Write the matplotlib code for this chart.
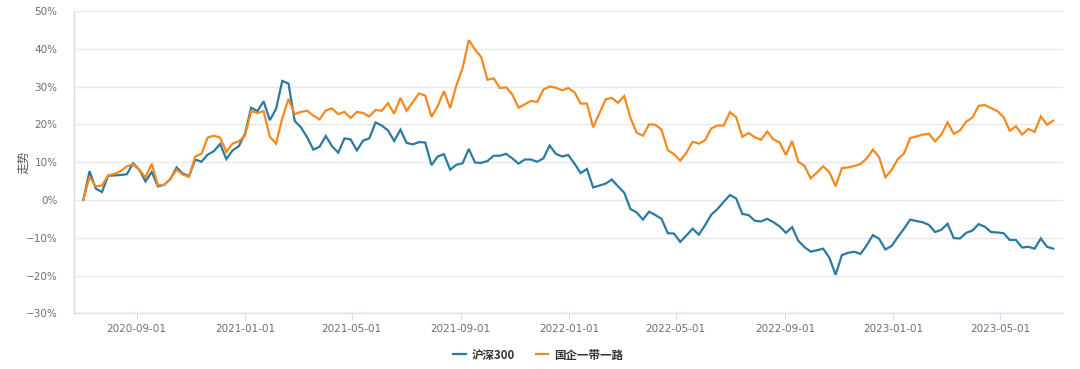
import matplotlib
matplotlib.use("Agg")
import matplotlib.pyplot as plt
import matplotlib.dates as mdates
import numpy as np
import pandas as pd

plt.rcParams['font.family'] = ['Noto Sans CJK SC', 'DejaVu Sans']

start_date = "2020-07-03"
n_points = 157
series_names = ["沪深300", "国企一带一路"]

hs300 = [
    0.0, 7.6, 3.0, 2.1, 6.4, 6.5, 6.6, 6.8, 9.7, 8.0,
    4.9, 7.4, 3.6, 4.0, 5.5, 8.6, 7.0, 6.3, 10.7, 10.1,
    12.0, 12.9, 14.8, 10.8, 13.1, 14.2, 17.5, 24.4, 23.5, 26.1,
    21.1, 24.1, 31.5, 30.8, 20.9, 19.2, 16.6, 13.3, 14.1, 16.9,
    14.2, 12.5, 16.3, 16.0, 13.1, 15.7, 16.3, 20.5, 19.7, 18.4,
    15.6, 18.6, 15.1, 14.7, 15.3, 15.2, 9.2, 11.5, 12.1, 8.0,
    9.3, 9.7, 13.5, 9.9, 9.8, 10.3, 11.7, 11.7, 12.2, 11.0,
    9.6, 10.7, 10.7, 10.1, 11.0, 14.4, 12.2, 11.5, 11.9, 9.6,
    7.1, 8.2, 3.3, 3.8, 4.3, 5.4, 3.6, 1.9, -2.4, -3.3,
    -5.2, -3.1, -4.0, -5.0, -8.8, -8.9, -11.1, -9.4, -7.6, -9.2,
    -6.7, -3.9, -2.4, -0.5, 1.3, 0.4, -3.7, -4.0, -5.5, -5.7,
    -5.0, -5.9, -7.0, -8.7, -7.2, -10.8, -12.5, -13.7, -13.3, -12.9,
    -15.3, -19.8, -14.6, -14.0, -13.7, -14.3, -12.0, -9.3, -10.3, -13.1,
    -12.2, -9.8, -7.6, -5.2, -5.6, -5.9, -6.6, -8.5, -7.9, -6.3,
    -10.1, -10.2, -8.7, -8.1, -6.4, -7.1, -8.5, -8.6, -8.8, -10.6,
    -10.6, -12.6, -12.4, -12.9, -10.2, -12.4, -12.9,
]

soe_belt_road = [
    0.0, 6.1, 3.6, 3.8, 6.5, 6.9, 7.6, 8.9, 9.4, 8.0,
    6.0, 9.6, 3.9, 4.0, 5.6, 8.0, 6.7, 6.1, 11.5, 12.2,
    16.5, 17.0, 16.5, 12.7, 14.9, 15.5, 17.0, 23.5, 23.0, 23.5,
    16.7, 14.9, 21.7, 26.7, 22.7, 23.3, 23.6, 22.3, 21.3, 23.7,
    24.2, 22.7, 23.3, 21.7, 23.3, 23.0, 22.1, 23.8, 23.6, 25.6,
    22.8, 27.0, 23.6, 25.9, 28.2, 27.6, 22.0, 24.8, 28.8, 24.3,
    30.3, 34.9, 42.3, 39.8, 37.8, 31.8, 32.2, 29.6, 29.8, 27.9,
    24.4, 25.3, 26.2, 25.9, 29.2, 30.0, 29.7, 29.0, 29.6, 28.5,
    25.5, 25.5, 19.2, 22.9, 26.6, 27.0, 25.7, 27.5, 21.7, 17.8,
    17.0, 20.0, 19.9, 18.6, 13.2, 12.1, 10.4, 12.5, 15.4, 14.9,
    15.8, 18.9, 19.7, 19.7, 23.2, 21.9, 16.7, 17.7, 16.6, 15.9,
    18.1, 16.0, 15.2, 11.9, 15.6, 10.1, 9.0, 5.7, 7.3, 8.9,
    7.3, 3.6, 8.4, 8.6, 9.0, 9.5, 11.0, 13.3, 11.3, 6.0,
    7.9, 10.8, 12.3, 16.4, 16.8, 17.3, 17.5, 15.5, 17.3, 20.5,
    17.5, 18.4, 20.7, 21.8, 24.9, 25.1, 24.3, 23.5, 22.0, 18.3,
    19.5, 17.3, 18.8, 18.0, 22.1, 19.9, 21.0,
]

y_ticks = [-30, -20, -10, 0, 10, 20, 30, 40, 50]
x_tick_labels = ["2020-09-01", "2021-01-01", "2021-05-01", "2021-09-01", "2022-01-01",
                 "2022-05-01", "2022-09-01", "2023-01-01", "2023-05-01"]

dates = pd.date_range(start_date, periods=n_points, freq="7D")

fig = plt.figure(figsize=(10.8, 3.69), dpi=100)
ax = fig.add_axes([74/1080, 1 - 313.3/369, (1063-74)/1080, (313.3-11)/369])

colors = ["#2a7aa1", "#f5891f"]
ax.plot(dates, hs300, color=colors[0], lw=1.6, label=series_names[0], solid_joinstyle='miter')
ax.plot(dates, soe_belt_road, color=colors[1], lw=1.6, label=series_names[1], solid_joinstyle='miter')

ax.set_ylim(-30, 50)
ax.set_yticks(y_ticks)
ax.set_yticklabels([f"{v}%".replace("-", "−") for v in y_ticks], fontsize=7.5, color="#6e6e6e",
                   family=['DejaVu Sans'])
ax.set_xlim(pd.Timestamp("2020-06-22 12:00"), pd.Timestamp("2023-07-11"))
ax.set_xticks([pd.Timestamp(t) for t in x_tick_labels])
ax.set_xticklabels(x_tick_labels, fontsize=7.5, color="#6e6e6e", family=['DejaVu Sans'])

ax.grid(axis='y', color="#e9e9e9", lw=1.0)
ax.set_axisbelow(True)
for s in ["top", "right"]:
    ax.spines[s].set_visible(False)
for s in ["left", "bottom"]:
    ax.spines[s].set_color("#d5ddee")
    ax.spines[s].set_linewidth(1.0)
ax.tick_params(axis='y', length=0, pad=12)
ax.tick_params(axis='x', length=5, color="#d5ddee", pad=3)

ax.set_ylabel("走势", fontsize=8.5, color="#555555")
ax.yaxis.set_label_coords((30 - 74) / 989, 0.5)

leg = fig.legend(loc="center", bbox_to_anchor=(538/1080, 1 - 355/369), ncol=2, frameon=False,
                 fontsize=8.3, handlelength=1.1, columnspacing=1.8, handletextpad=0.5)
for t in leg.get_texts():
    t.set_color("#333333")
    t.set_fontweight("bold")

fig.savefig("out.png", dpi=100)
